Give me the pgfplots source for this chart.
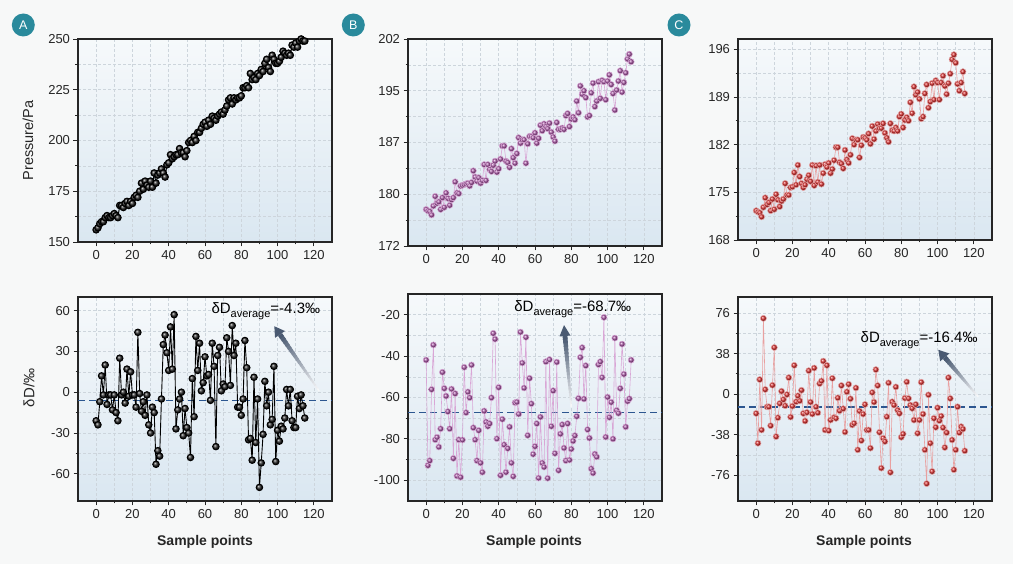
\documentclass[border=0pt]{standalone}
\usepackage{pgfplots}
\pgfplotsset{compat=1.18}
\usepackage{fontspec}
\setmainfont{Liberation Sans}
\usetikzlibrary{calc}
\definecolor{bgc}{HTML}{F7F8F8}
\definecolor{axtop}{HTML}{F6F9FB}
\definecolor{axbot}{HTML}{DAE7F1}
\definecolor{gridc}{HTML}{CDD5DC}
\definecolor{tealc}{HTML}{2A8A9C}
\definecolor{arrowc}{HTML}{4A5A72}
\definecolor{avgc}{HTML}{2C5690}
\definecolor{purpm}{HTML}{A24E9E}
\definecolor{purpl}{HTML}{D9A6D6}
\definecolor{redm}{HTML}{D42626}
\definecolor{redl}{HTML}{E9A0A0}

\pgfplotsset{
  panel/.style={
    scale only axis, width=254pt, anchor=south west,
    xmin=-10, xmax=130, xtick={0,20,...,120},
    minor x tick num=1, minor y tick num=1,
    grid=both,
    major grid style={gridc, dash pattern=on 3pt off 2pt, line width=0.5pt},
    minor grid style={gridc, dash pattern=on 3pt off 2pt, line width=0.5pt},
    tick align=outside, tick pos=left,
    major tick length=4.5pt, minor tick length=2.5pt,
    every tick/.style={black!85, line width=0.8pt},
    axis line style={draw=black!85, line width=1.1pt},
    axis background/.style={top color=axtop, bottom color=axbot},
    tick label style={font=\fontsize{13}{15}\selectfont, text=black!85},
    /pgf/number format/assume math mode=true,
  },
}

\newcommand{\fadearrow}[4]{%
  \coordinate (hb) at ($(#2)!#3!(#1)$);
  \foreach \i in {0,...,19}{%
    \pgfmathsetmacro\ta{\i/20}%
    \pgfmathsetmacro\tb{min((\i+1.25)/20,1)}%
    \pgfmathtruncatemacro\cc{5*\i+5}%
    \pgfmathsetmacro\lw{1.5+3.5*\ta}%
    \draw[line width=\lw pt, draw=arrowc!\cc!white] ($(#1)!\ta!(hb)$) -- ($(#1)!\tb!(hb)$);
  }
  \fill[arrowc] (#2) -- ($(hb)!#4!90:(#2)$) -- ($(hb)!#4!-90:(#2)$) -- cycle;
}
\newcommand{\avgtext}[1]{δD\raisebox{-0.45ex}{\fontsize{11}{12}\selectfont average}=#1‰}

\begin{document}
\begin{tikzpicture}
\path[use as bounding box, fill=bgc] (0pt,0pt) rectangle (1013pt,564pt);

% ---------- A top
\begin{axis}[panel, at={(78pt,322pt)}, height=203pt, ymin=150, ymax=250, ytick={150,175,...,250}]
\addplot[black, line width=1pt, mark=ball, mark size=3.3pt, mark options={ball color=black!85}] coordinates {
(0,156)(1,157)(2,159)(3,160)(4,160)(5,162)(6,163)(7,162)(8,162)(9,163)(10,164)(11,163)(12,162)(13,168)(14,168)(15,167)(16,169)(17,170)(18,168)(19,170)(20,169)(21,172)(22,173)(23,172)(24,175)(25,179)(26,176)(27,180)(28,178)(29,177)(30,180)(31,177)(32,184)(33,179)(34,183)(35,184)(36,186)(37,184)(38,182)(39,188)(40,189)(41,193)(42,191)(43,192)(44,193)(45,193)(46,196)(47,194)(48,194)(49,192)(50,195)(51,199)(52,200)(53,199)(54,202)(55,200)(56,204)(57,204)(58,206)(59,208)(60,209)(61,207)(62,210)(63,208)(64,212)(65,211)(66,210)(67,212)(68,213)(69,214)(70,213)(71,215)(72,217)(73,220)(74,221)(75,218)(76,221)(77,220)(78,221)(79,221)(80,222)(81,226)(82,226)(83,227)(84,226)(85,233)(86,230)(87,231)(88,230)(89,233)(90,232)(91,235)(92,234)(93,238)(94,240)(95,236)(96,234)(97,242)(98,240)(99,238)(100,238)(101,239)(102,241)(103,244)(104,243)(105,242)(106,243)(107,242)(108,247)(109,246)(110,248)(111,246)(112,249)(113,250)(114,249)(115,249)
};
\end{axis}

% ---------- A bottom
\begin{axis}[panel, at={(78pt,63pt)}, height=204pt, ymin=-80, ymax=70, ytick={-60,-30,...,60}]
\addplot[avgc, line width=1.2pt, dash pattern=on 7pt off 4pt] coordinates {(-10,-6) (130,-6)};
\addplot[black, line width=0.9pt, mark=ball, mark size=3.3pt, mark options={ball color=black!85}] coordinates {
(0,-21)(1,-24)(2,-7)(3,12)(4,-2)(5,20)(6,-9)(7,-2)(8,-2)(9,-13)
(10,-2)(11,-15)(12,-21)(13,25)(14,-2)(15,0)(16,-8)(17,17)(18,-3)(19,15)
(20,-2)(21,-2)(22,-11)(23,44)(24,-1)(25,-14)(26,-7)(27,-17)(28,-2)(29,-24)
(30,-30)(31,-11)(32,-15)(33,-53)(34,-43)(35,-47)(36,-5)(37,35)(38,42)(39,29)
(40,16)(41,48)(42,17)(43,57)(44,-27)(45,-13)(46,-5)(47,0)(48,-32)(49,-12)
(50,-26)(51,-30)(52,-48)(53,10)(54,-18)(55,41)(56,16)(57,36)(58,1)(59,7)
(60,26)(61,12)(62,13)(63,-6)(64,36)(65,19)(66,-40)(67,27)(68,33)(69,1)
(70,6)(71,4)(72,40)(73,30)(74,5)(75,49)(76,27)(77,36)(78,-11)(79,-11)
(80,-17)(81,-5)(82,38)(83,18)(84,-35)(85,-34)(86,-50)(87,11)(88,-37)(89,-5)
(90,-70)(91,-52)(92,-31)(93,8)(94,-10)(95,0)(96,-24)(97,-20)(98,19)(99,-51)
(100,-28)(101,-36)(102,-25)(103,-27)(104,-19)(105,2)(106,-10)(107,2)(108,-21)(109,-26)
(110,-26)(111,-3)(112,-12)(113,-2)(114,-10)(115,-19)
};
\coordinate (ta) at (axis cs:123,0.7);
\coordinate (ha) at (axis cs:98.2,48.5);
\node[anchor=west, font=\fontsize{15}{17}\selectfont, inner sep=0pt] at (axis cs:63.5,59.5) {\avgtext{-4.3}};
\end{axis}
\fadearrow{ta}{ha}{10pt}{6pt}

% ---------- B top
\begin{axis}[panel, at={(408pt,318pt)}, height=207pt, ymin=172, ymax=202, ytick={172,179.5,187,194.5,202}, yticklabels={172,180,187,195,202}]
\addplot[purpl, line width=0.6pt, mark=ball, mark size=3pt, mark options={ball color=purpm}] coordinates {
(0,177.3)(1,177.1)(2,177.0)(3,176.5)(4,177.8)(5,179.2)(6,178.2)(7,178.4)(8,177.3)(9,179.0)
(10,177.6)(11,179.7)(12,178.9)(13,177.9)(14,178.7)(15,179.0)(16,181.3)(17,179.7)(18,179.6)(19,180.7)
(20,180.8)(21,180.9)(22,181.0)(23,181.1)(24,180.7)(25,181.2)(26,182.9)(27,182.0)(28,181.4)(29,181.9)
(30,181.1)(31,181.5)(32,183.8)(33,181.5)(34,183.8)(35,183.1)(36,182.8)(37,183.7)(38,184.3)(39,182.7)
(40,183.2)(41,184.6)(42,186.5)(43,186.5)(44,184.3)(45,184.1)(46,183.4)(47,186.1)(48,184.8)(49,184.0)
(50,185.4)(51,187.7)(52,186.9)(53,187.4)(54,187.4)(55,184.0)(56,186.8)(57,187.9)(58,187.9)(59,187.7)
(60,188.4)(61,186.9)(62,187.6)(63,189.5)(64,188.7)(65,189.7)(66,189.3)(67,189.0)(68,189.8)(69,188.5)
(70,187.8)(71,187.2)(72,189.9)(73,188.9)(74,188.9)(75,189.1)(76,188.9)(77,190.9)(78,191.2)(79,189.3)
(80,190.4)(81,190.7)(82,190.3)(83,193.0)(84,191.3)(85,195.2)(86,194.0)(87,194.5)(88,193.5)(89,190.7)
(90,190.9)(91,194.2)(92,195.6)(93,192.2)(94,193.0)(95,195.8)(96,193.4)(97,196.0)(98,195.8)(99,193.2)
(100,195.9)(101,196.8)(102,195.4)(103,194.1)(104,191.7)(105,194.6)(106,195.9)(107,197.4)(108,194.3)(109,195.7)
(110,197.1)(111,199.1)(112,199.8)(113,198.7)
};
\end{axis}

% ---------- B bottom
\begin{axis}[panel, at={(408pt,63pt)}, height=207pt, ymin=-110, ymax=-10, ytick={-100,-80,...,-20}]
\addplot[avgc, line width=1.2pt, dash pattern=on 7pt off 4pt] coordinates {(-10,-67.3) (130,-67.3)};
\addplot[purpl, line width=0.6pt, mark=ball, mark size=3pt, mark options={ball color=purpm}] coordinates {
(0,-41.9)(1,-92.8)(2,-90.5)(3,-56.1)(4,-34.6)(5,-80.4)(6,-79.2)(7,-83.9)(8,-75.1)(9,-47.8)
(10,-55.6)(11,-59.3)(12,-66.8)(13,-75.1)(14,-55.9)(15,-89.4)(16,-58.1)(17,-97.9)(18,-80.4)(19,-98.5)
(20,-80.5)(21,-45.4)(22,-67.3)(23,-57.3)(24,-60.1)(25,-44.3)(26,-74.6)(27,-80.4)(28,-90.5)(29,-75.9)
(30,-91.6)(31,-96.1)(32,-66.5)(33,-71.8)(34,-73.9)(35,-72.6)(36,-60.1)(37,-29.0)(38,-31.8)(39,-79.9)
(40,-55.1)(41,-97.6)(42,-70.5)(43,-82.8)(44,-96.1)(45,-84.6)(46,-74.2)(47,-91.6)(48,-98.1)(49,-62.5)
(50,-62.2)(51,-68.0)(52,-28.4)(53,-43.3)(54,-55.4)(55,-30.9)(56,-78.3)(57,-50.7)(58,-63.0)(59,-87.4)
(60,-83.6)(61,-72.6)(62,-98.9)(63,-69.4)(64,-91.6)(65,-93.6)(66,-42.7)(67,-99.0)(68,-41.7)(69,-73.9)
(70,-56.7)(71,-87.0)(72,-42.9)(73,-95.2)(74,-77.6)(75,-73.1)(76,-84.4)(77,-90.5)(78,-72.6)(79,-90.2)
(80,-84.9)(81,-81.0)(82,-78.4)(83,-69.1)(84,-60.4)(85,-40.6)(86,-35.9)(87,-60.7)(88,-44.6)(89,-75.5)
(90,-79.6)(91,-94.4)(92,-96.5)(93,-87.3)(94,-88.7)(95,-44.1)(96,-42.7)(97,-50.3)(98,-21.3)(99,-79.1)
(100,-59.8)(101,-69.6)(102,-62.3)(103,-80.0)(104,-31.3)(105,-66.2)(106,-67.6)(107,-55.6)(108,-34.2)(109,-48.7)
(110,-74.2)(111,-61.8)(112,-60.6)(113,-41.9)
};
\coordinate (tb) at (axis cs:80,-64.7);
\coordinate (hbb) at (axis cs:76,-25);
\node[anchor=west, font=\fontsize{15}{17}\selectfont, inner sep=0pt] at (axis cs:48.5,-17.3) {\avgtext{-68.7}};
\end{axis}
\fadearrow{tb}{hbb}{11pt}{5.5pt}

% ---------- C top
\begin{axis}[panel, at={(738pt,324pt)}, height=201pt, ymin=168, ymax=197.5, ytick={168,175,182,189,196}]
\addplot[redl, line width=0.6pt, mark=ball, mark size=3pt, mark options={ball color=redm}] coordinates {
(0,172.3)(1,172.1)(2,172.0)(3,171.4)(4,172.8)(5,174.2)(6,173.2)(7,173.5)(8,172.3)(9,174.0)
(10,172.5)(11,174.7)(12,173.9)(13,172.9)(14,173.7)(15,174.0)(16,176.3)(17,174.6)(18,174.6)(19,175.7)
(20,175.8)(21,177.9)(22,176.1)(23,179.0)(24,177.3)(25,176.3)(26,175.7)(27,176.1)(28,176.9)(29,177.5)
(30,176.6)(31,179.0)(32,176.0)(33,178.9)(34,176.5)(35,179.0)(36,176.2)(37,177.8)(38,179.1)(39,178.7)
(40,179.3)(41,177.8)(42,178.4)(43,179.7)(44,181.6)(45,181.6)(46,179.4)(47,179.2)(48,178.5)(49,181.2)
(50,179.8)(51,179.3)(52,180.5)(53,182.9)(54,182.0)(55,182.7)(56,182.7)(57,180.1)(58,181.9)(59,183.1)
(60,183.0)(61,182.7)(62,183.6)(63,182.1)(64,184.7)(65,182.8)(66,184.0)(67,185.0)(68,184.4)(69,184.4)
(70,185.1)(71,183.7)(72,183.0)(73,182.4)(74,185.1)(75,184.1)(76,184.0)(77,184.5)(78,184.0)(79,186.1)
(80,186.5)(81,184.5)(82,185.6)(83,186.0)(84,185.5)(85,188.2)(86,186.6)(87,190.5)(88,189.3)(89,189.7)
(90,188.7)(91,185.8)(92,186.1)(93,189.5)(94,190.8)(95,187.4)(96,188.3)(97,191.0)(98,188.6)(99,191.4)
(100,191.1)(101,188.6)(102,191.1)(103,192.1)(104,190.6)(105,189.4)(106,191.0)(107,192.4)(108,194.5)(109,195.2)
(110,194.0)(111,190.9)(112,189.9)(113,191.1)(114,192.7)(115,189.5)
};
\end{axis}

% ---------- C bottom
\begin{axis}[panel, at={(738pt,63pt)}, height=204pt, ymin=-100, ymax=91, ytick={-76,-38,0,38,76}]
\addplot[avgc, line width=1.2pt, dash pattern=on 7pt off 4pt] coordinates {(-10,-12) (130,-12)};
\addplot[redl, line width=0.6pt, mark=ball, mark size=3pt, mark options={ball color=redm}] coordinates {
(0,-18.0)(1,-45.9)(2,13.7)(3,-33.5)(4,71.0)(5,4.4)(6,-11.8)(7,-11.8)(8,-29.5)(9,8.4)
(10,43.7)(11,-39.7)(12,-22.0)(13,-8.7)(14,2.8)(15,-5.0)(16,-10.8)(17,-0.3)(18,15.5)(19,-21.4)
(20,-11.2)(21,27.0)(22,-7.1)(23,-1.5)(24,-6.2)(25,3.7)(26,-18.0)(27,-25.1)(28,-17.1)(29,22.0)
(30,-7.4)(31,-18.6)(32,24.5)(33,-11.8)(34,-17.4)(35,9.9)(36,12.4)(37,31.0)(38,-33.5)(39,27.0)
(40,-34.1)(41,-24.2)(42,14.9)(43,-21.7)(44,-22.6)(45,-3.4)(46,-15.5)(47,8.1)(48,-13.6)(49,-35.4)
(50,2.2)(51,9.3)(52,-4.3)(53,-28.8)(54,-27.3)(55,5.9)(56,-52.1)(57,-15.8)(58,-43.4)(59,-18.6)
(60,-9.6)(61,-33.5)(62,-33.5)(63,-50.5)(64,1.6)(65,-7.4)(66,23.0)(67,8.1)(68,-35.7)(69,-69.2)
(70,-41.2)(71,-44.3)(72,-21.1)(73,10.6)(74,-73.2)(75,-7.1)(76,-10.2)(77,6.8)(78,-14.9)(79,-18.0)
(80,-40.3)(81,-37.2)(82,-3.7)(83,11.5)(84,-4.0)(85,-10.2)(86,-13.3)(87,-24.2)(88,-9.6)(89,-36.6)
(90,-24.2)(91,11.2)(92,-18.6)(93,-52.1)(94,-83.7)(95,-0.6)(96,-45.9)(97,-72.3)(98,-22.6)(99,-31.0)
(100,-12.7)(101,-24.8)(102,-20.5)(103,-31.3)(104,-49.9)(105,-36.0)(106,15.5)(107,-4.0)(108,-42.8)(109,-70.7)
(110,-52.1)(111,-11.8)(112,-36.0)(113,-30.4)(114,-32.6)(115,-53.0)
};
\coordinate (tc) at (axis cs:122.4,-2.5);
\coordinate (hc) at (axis cs:100.4,41.6);
\node[anchor=west, font=\fontsize{15}{17}\selectfont, inner sep=0pt] at (axis cs:57.5,50.3) {\avgtext{-16.4}};
\end{axis}
\fadearrow{tc}{hc}{10pt}{6pt}

% ---------- labels
\node[rotate=90, font=\fontsize{14.5}{16}\selectfont, text=black!85] at (28pt,423.5pt) {Pressure/Pa};
\node[rotate=90, font=\fontsize{15}{16}\selectfont, text=black!85] at (29pt,176pt) {δD/‰};
\node[font=\bfseries\fontsize{14}{16}\selectfont, text=black!85] at (205pt,22.3pt) {Sample points};
\node[font=\bfseries\fontsize{14}{16}\selectfont, text=black!85] at (534pt,22.3pt) {Sample points};
\node[font=\bfseries\fontsize{14}{16}\selectfont, text=black!85] at (864pt,22.3pt) {Sample points};

\foreach \px/\lab in {23.3/A, 353.3/B, 679/C}{
  \fill[tealc] (\px pt,539pt) circle (11.5pt);
  \node[text=white, font=\fontsize{12.5}{12}\selectfont] at (\px pt,539pt) {\lab};
}
\end{tikzpicture}
\end{document}
